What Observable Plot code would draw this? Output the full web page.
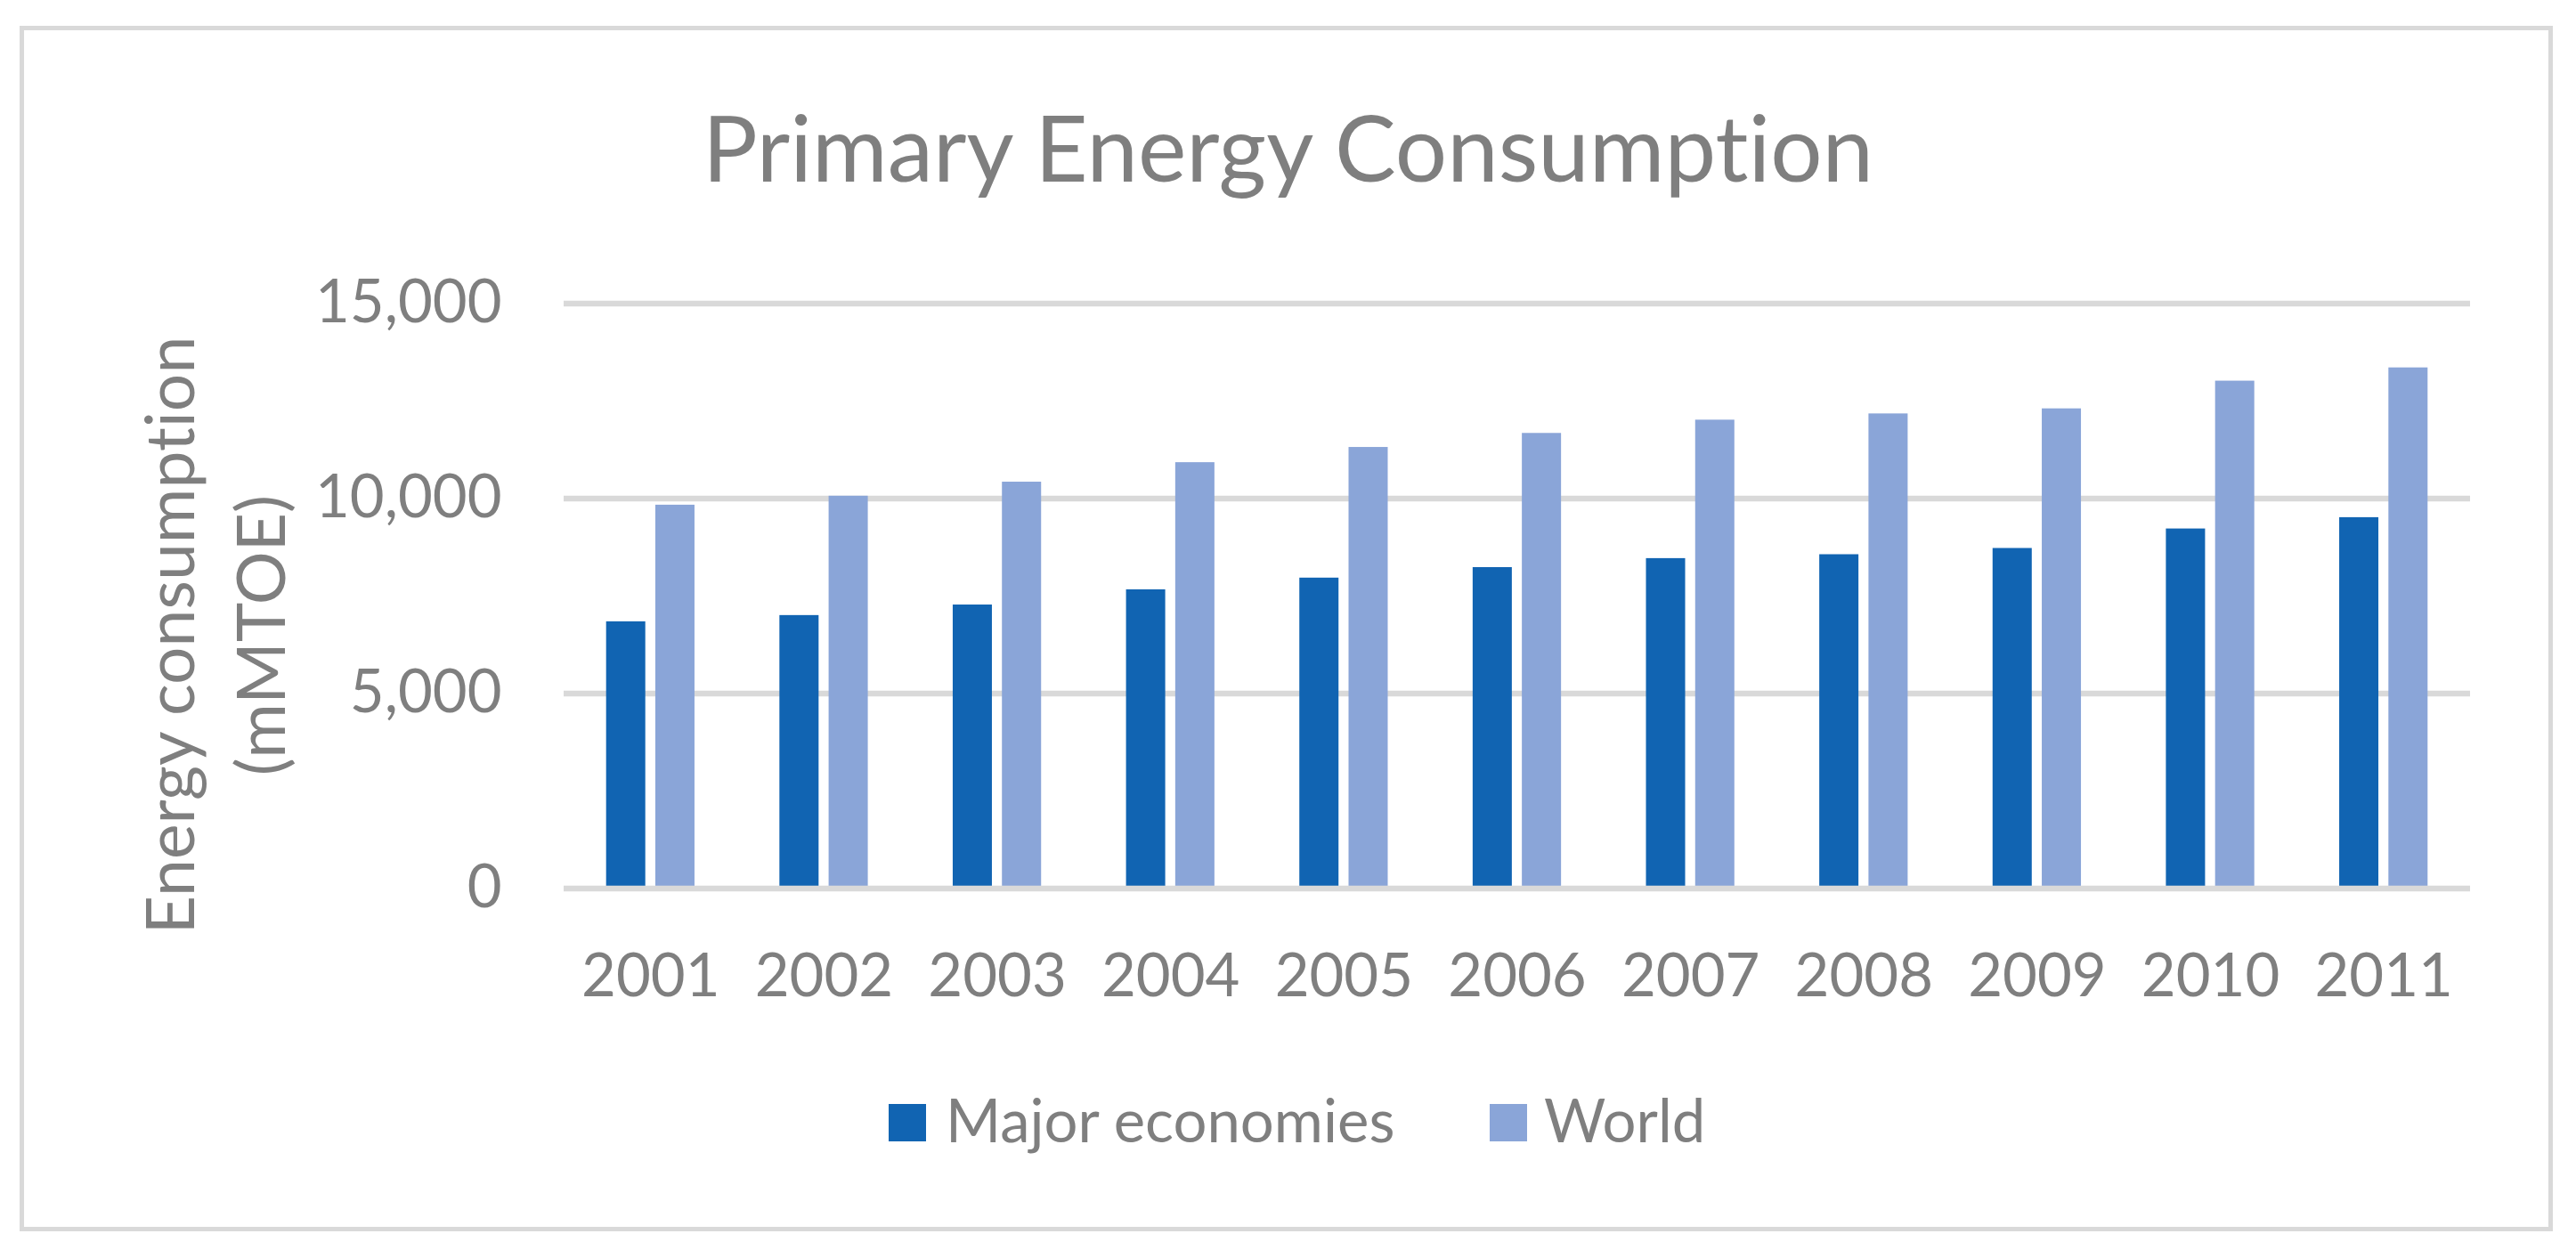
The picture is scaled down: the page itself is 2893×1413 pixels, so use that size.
<!DOCTYPE html>
<html>
<head>
<meta charset="utf-8">
<script src="https://cdn.jsdelivr.net/npm/d3@7"></script>
<script src="https://cdn.jsdelivr.net/npm/@observablehq/plot@0.6"></script>
<style>
  html, body { margin: 0; padding: 0; background: #ffffff; overflow: hidden; }
  #page { position: relative; width: 2893px; height: 1413px; font-family: Lato, "Open Sans", sans-serif; color: #7f7f7f; font-variant-ligatures: none; font-feature-settings: "liga" 0, "clig" 0; }
  #page svg, #page svg text { font-variant-ligatures: none; font-feature-settings: "liga" 0, "clig" 0; }
  #frame { position: absolute; left: 21.5px; top: 28.5px; width: 2845px; height: 1354px; border: 5px solid #d9d9d9; box-sizing: border-box; }
  #title { position: absolute; left: 0; top: 112.6px; width: 2893px; text-align: center; font-size: 103px; line-height: 103px; white-space: nowrap; }
  #chart { position: absolute; left: 0; top: 0; }
  .sw { position: absolute; width: 42px; height: 42px; top: 1240px; }
  .lt { position: absolute; top: 1236px; font-size: 67px; line-height: 42px; white-space: nowrap; }
</style>
</head>
<body>
<div id="page">
  <div id="frame"></div>
  <div id="chart"></div>
  <div id="title"></div>
  <div id="legend"></div>
</div>
<script>
const title = "Primary Energy Consumption";
const yLabel = "Energy consumption\n(mMTOE)";
const years = ["2001","2002","2003","2004","2005","2006","2007","2008","2009","2010","2011"];
const seriesNames = ["Major economies", "World"];
const seriesColors = ["#1164b2", "#8aa5d8"];
const major = [6840, 7000, 7270, 7660, 7960, 8230, 8460, 8560, 8720, 9220, 9510];
const world = [9830, 10060, 10420, 10920, 11310, 11670, 12010, 12170, 12300, 13010, 13350];
const yTicks = [0, 5000, 10000, 15000];

const rows = years.map((year, i) => ({year, major: major[i], world: world[i]}));

document.getElementById("title").textContent = title;

const W = 2893, H = 1160;
const mL = 633, mR = 2893 - 2774, mT = 340.4, mB = H - 997.5;
const step = (W - mL - mR) / years.length;
const band = step * (1 - 0.49);
const barW = 44;

const chart = Plot.plot({
  width: W,
  height: H,
  marginLeft: mL,
  marginRight: mR,
  marginTop: mT,
  marginBottom: mB,
  style: {fontFamily: "Lato, 'Open Sans', sans-serif", fontSize: "67px", color: "#7f7f7f", background: "transparent", overflow: "visible"},
  x: {type: "band", domain: years, paddingInner: 0.49, paddingOuter: 0.245, round: false, tickSize: 0, tickPadding: 73, label: null},
  y: {domain: [0, 15000], ticks: yTicks, tickFormat: d3.format(","), tickSize: 0, tickPadding: 70, label: null},
  marks: [
    Plot.ruleY(yTicks.filter(d => d !== 0), {stroke: "#d9d9d9", strokeWidth: 6.5}),
    Plot.barY(rows, {x: "year", y: "major", fill: seriesColors[0], insetRight: band - barW}),
    Plot.barY(rows, {x: "year", y: "world", fill: seriesColors[1], insetLeft: band - barW}),
    Plot.ruleY([0], {stroke: "#d9d9d9", strokeWidth: 6.5}),
    Plot.text([yLabel], {text: d => d, frameAnchor: "left", rotate: -90, textAnchor: "middle", lineAnchor: "middle", lineHeight: 1.36, fontSize: 75, fill: "#7f7f7f", dx: 235.6 - mL, dy: 713 - (mT + 997.5) / 2})
  ]
});
document.getElementById("chart").appendChild(chart);

const legend = document.getElementById("legend");
const swLeft = [998, 1673];
const txLeft = [1062, 1734];
seriesNames.forEach((name, i) => {
  const sw = document.createElement("div");
  sw.className = "sw";
  sw.style.left = swLeft[i] + "px";
  sw.style.background = seriesColors[i];
  legend.appendChild(sw);
  const tx = document.createElement("div");
  tx.className = "lt";
  tx.style.left = txLeft[i] + "px";
  tx.textContent = name;
  legend.appendChild(tx);
});
</script>
</body>
</html>
